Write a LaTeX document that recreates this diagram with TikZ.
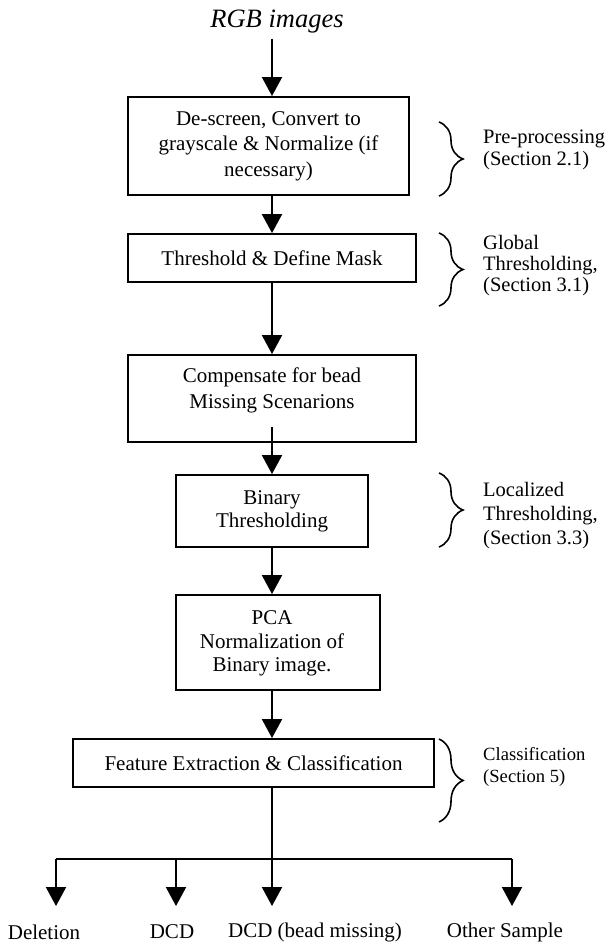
\documentclass[tikz,border=0pt]{standalone}
\usepackage{fontspec}
\setmainfont{Liberation Serif}
\usetikzlibrary{arrows.meta,decorations.pathreplacing}
\begin{document}
\begin{tikzpicture}[x=1pt,y=-1pt,
  box/.style={draw,line width=1.9pt,inner sep=0pt},
  txt/.style={font=\fontsize{21}{25.5}\selectfont,align=center,inner sep=0pt},
  side/.style={font=\fontsize{20.5}{22}\selectfont,align=left,anchor=west,inner sep=0pt},
  arr/.style={line width=2.1pt,-{Triangle[length=19pt,width=20pt]}},
  plain/.style={line width=2.1pt},
  brc/.style={line width=1.6pt,decorate,decoration={brace,amplitude=24pt}}]
\useasboundingbox (0,0) rectangle (611,944);
\coordinate (col) at (272,0);

% title
\node[inner sep=0pt,font=\fontsize{26.5}{30}\selectfont\itshape] (rgb) at (277,22) {RGB images};

% boxes
\node[box,minimum width=281pt,minimum height=98pt] (b1) at (268.5,146) {};
\node[box,minimum width=288pt,minimum height=48pt] (b2) at (272,258) {};
\node[box,minimum width=288pt,minimum height=87pt] (b3) at (272,398.5) {};
\node[box,minimum width=192pt,minimum height=72pt] (b4) at (272,511) {};
\node[box,minimum width=204pt,minimum height=95pt] (b5) at (278,642.5) {};
\node[box,minimum width=361pt,minimum height=48pt] (b6) at (253.5,763) {};

% box texts
\node[txt] (t1) at (268.5,146) {De-screen, Convert to\\grayscale \& Normalize (if\\necessary)};
\node[txt] (t2) at (272,258) {Threshold \& Define Mask};
\node[txt] (t3) at (272,390.5) {Compensate for bead\\Missing Scenarions};
\node[txt,font=\fontsize{21}{23}\selectfont] (t4) at (272,511.5) {Binary\\Thresholding};
\node[txt,font=\fontsize{21}{23.5}\selectfont] (t5) at (272,643.5) {PCA\\Normalization of\\Binary image.};
\node[txt] (t6) at (253.5,763) {Feature Extraction \& Classification};

% connectors
\coordinate (b3out) at (272,427);
\draw[arr] ([yshift=-5pt]rgb.south -| col) -- (b1.north -| col);
\draw[arr] (b1.south -| col) -- (b2.north -| col);
\draw[arr] (b2.south -| col) -- (b3.north -| col);
\draw[arr] (b3out) -- (b4.north -| col);
\draw[arr] (b4.south -| col) -- (b5.north -| col);
\draw[arr] (b5.south -| col) -- (b6.north -| col);

% branching
\coordinate (hl) at (56,859);
\coordinate (hr) at (512,859);
\coordinate (h2) at (176,859);
\coordinate (e1) at (56,906);
\coordinate (e2) at (176,906);
\coordinate (e3) at (272,906);
\coordinate (e4) at (512,906);
\draw[arr] (b6.south -| col) -- (e3);
\draw[plain] (hl) -- (hr);
\draw[arr] (hl) -- (e1);
\draw[arr] (h2) -- (e2);
\draw[arr] (hr) -- (e4);

% outputs
\node[txt] (o1) at (44,932) {Deletion};
\node[txt] (o2) at (172,932) {DCD};
\node[txt] (o3) at (315,932) {DCD (bead missing)};
\node[txt] (o4) at (505,932) {Other Sample};

% braces
\draw[brc] (439,122) -- (439,196);
\draw[brc] (439,233) -- (439,306);
\draw[brc] (439,473) -- (439,547);
\draw[brc] (439,739) -- (439,822);

% side labels
\node[side] (s1) at (483,150) {Pre-processing\\(Section 2.1)};
\node[side,font=\fontsize{20.5}{21}\selectfont] (s2) at (483,266) {Global\\Thresholding,\\(Section 3.1)};
\node[side,font=\fontsize{20.5}{24}\selectfont] (s3) at (483,516) {Localized\\Thresholding,\\(Section 3.3)};
\node[side,font=\fontsize{18.6}{22}\selectfont] (s4) at (483,767) {Classification\\(Section 5)};
\end{tikzpicture}
\end{document}
